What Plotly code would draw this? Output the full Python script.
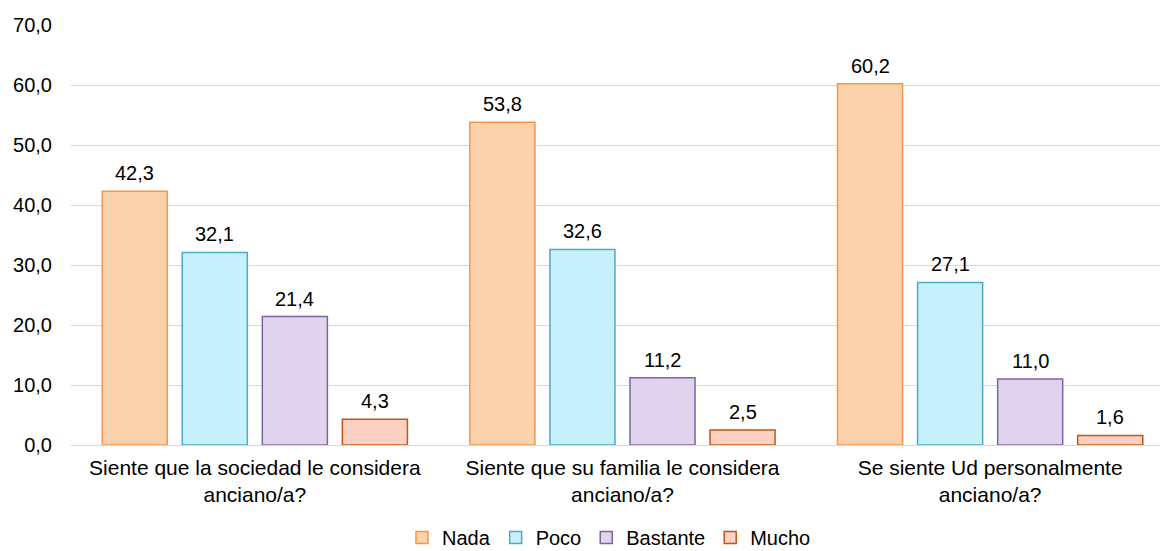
import plotly.graph_objects as go

categories = ["Siente que la sociedad le considera<br>anciano/a?",
              "Siente que su familia le considera<br>anciano/a?",
              "Se siente Ud personalmente<br>anciano/a?"]
series_names = ["Nada", "Poco", "Bastante", "Mucho"]
nada = [42.3, 53.8, 60.2]
poco = [32.1, 32.6, 27.1]
bastante = [21.4, 11.2, 11.0]
mucho = [4.3, 2.5, 1.6]
y_ticks = [0, 10, 20, 30, 40, 50, 60, 70]

values = [nada, poco, bastante, mucho]
fills = ["#FCD2AC", "#C6F0FB", "#DFD4EE", "#FDD0C2"]
borders = ["#F79646", "#4BACC6", "#8064A2", "#C0590F"]

FS = 20

fig = go.Figure()
xs = list(range(len(categories)))
for name, vals, fc, bc in zip(series_names, values, fills, borders):
    fig.add_trace(go.Bar(x=xs, y=vals, name=name,
                         marker=dict(color=fc, line=dict(color=bc, width=1.5))))

bargap = 0.129
slot = (1 - bargap) / len(series_names)
for j, vals in enumerate(values):
    for i, v in enumerate(vals):
        fig.add_annotation(x=i + (j - (len(series_names) - 1) / 2) * slot, y=v,
                           xref="x", yref="y", text=f"{v:.1f}".replace(".", ","),
                           showarrow=False, yanchor="bottom", yshift=5,
                           font=dict(size=FS, color="#000000"))

fig.update_layout(
    width=1160, height=551,
    margin=dict(l=71, r=0, t=25, b=106, autoexpand=False),
    paper_bgcolor="white", plot_bgcolor="white",
    font=dict(family="Liberation Sans, Arial, sans-serif", size=FS, color="#000000"),
    separators=",.",
    barmode="group", bargap=bargap, bargroupgap=0.1875,
    showlegend=True,
    legend=dict(orientation="h", x=0.494, xanchor="center",
                y=-0.22, yanchor="middle",
                font=dict(size=FS), itemwidth=30, tracegroupgap=0),
    xaxis=dict(tickmode="array", tickvals=xs, ticktext=categories,
               range=[-0.5, 2.462], showgrid=False, zeroline=False, showline=False,
               ticks="", ticklabelstandoff=8, tickfont=dict(size=21), automargin=False),
    yaxis=dict(range=[0, 70], tickvals=y_ticks, tickformat=".1f",
               showgrid=True, gridcolor="#D9D9D9", gridwidth=1,
               zeroline=True, zerolinecolor="#D9D9D9", zerolinewidth=1,
               showline=False, ticks="", ticklabelstandoff=18, tickfont=dict(size=FS),
               automargin=False),
)

fig.write_html("out.html")
